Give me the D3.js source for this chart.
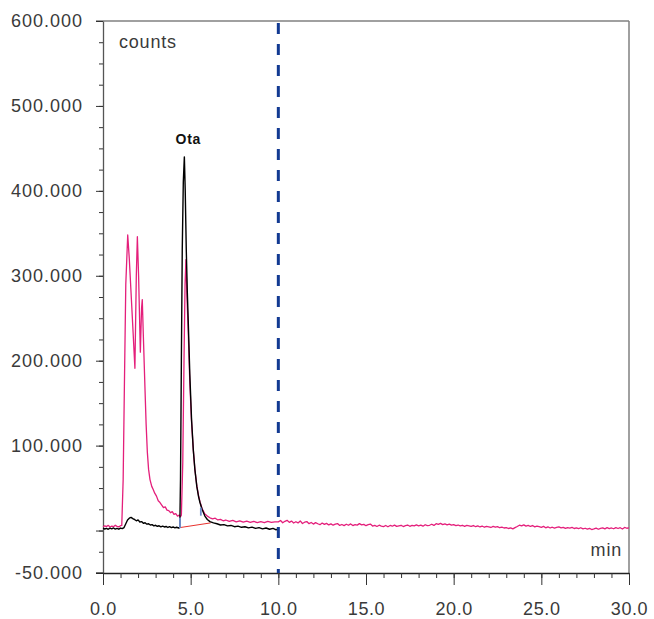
<!DOCTYPE html>
<html>
<head>
<meta charset="utf-8">
<script src="https://cdn.jsdelivr.net/npm/d3@7"></script>
<style>
  html, body { margin: 0; padding: 0; background: #fff; }
  svg text { font-family: Arial, "Liberation Sans", sans-serif; }
</style>
</head>
<body>
<div id="chart-container"></div>
<script>
// retention time (min) / detector counts
const pinkTime = [
  0.0, 0.1, 0.2, 0.3, 0.4, 0.5, 0.6, 0.7, 0.8, 0.9, 1.0, 1.07, 1.15, 1.22, 1.3, 1.41, 1.5, 1.6, 1.7, 1.82,
  1.9, 1.96, 2.03, 2.13, 2.2, 2.24, 2.3, 2.39, 2.46, 2.53, 2.6, 2.68, 2.78, 2.87, 2.95, 3.05, 3.15, 3.25, 3.35, 3.45,
  3.55, 3.65, 3.75, 3.85, 3.95, 4.05, 4.15, 4.25, 4.35, 4.42, 4.47, 4.55, 4.62, 4.68, 4.73, 4.78, 4.86, 4.95, 5.05, 5.15,
  5.24, 5.35, 5.45, 5.53, 5.65, 5.81, 5.95, 6.1, 6.25, 6.4, 6.55, 6.7, 6.85, 7.0, 7.2, 7.4, 7.6, 7.8, 8.0, 8.2,
  8.4, 8.6, 8.8, 9.0, 9.2, 9.4, 9.6, 9.8
];
const pinkCounts = [
  4500, 5600, 4700, 6100, 4200, 5300, 4500, 6200, 4900, 4300, 5700, 6000, 60000, 170000, 290000, 348000, 320000, 280000, 240000, 191000,
  300000, 346000, 300000, 210000, 262000, 272000, 230000, 170000, 125000, 92000, 72000, 60000, 52000, 48000, 44000, 40500, 35000, 33000, 30000, 27000,
  27800, 24000, 23500, 21000, 22300, 19000, 19800, 17000, 18200, 16500, 18000, 80000, 200000, 290000, 319000, 280000, 235000, 175000, 128000, 95000,
  72000, 53000, 41000, 34000, 26000, 19500, 17000, 15000, 13800, 14500, 12500, 13200, 11500, 12400, 10800, 12000, 10200, 11400, 9800, 11000,
  9600, 10800, 9400, 10500, 9200, 10700, 9500, 10300
];
// pink tail, sampled every 0.125 min from 10.0 to 30.0
const pinkTailStart = 10.0;
const pinkTailStep = 0.125;
const pinkTailCounts = [
  10200, 11800, 9100, 10900, 12000, 9600, 11100, 8900,
  10400, 9000, 11300, 8300, 9800, 10600, 8100, 9500,
  7600, 9300, 8000, 6900, 8800, 7200, 8400, 6600,
  7900, 6300, 7500, 8200, 6000, 7100, 5800, 7400,
  6200, 7800, 5900, 7000, 6400, 8100, 6600, 7300,
  5700, 6900, 7600, 5300, 6100, 4800, 6300, 5200,
  4600, 5900, 4400, 6000, 5100, 6400, 4900, 5600,
  6200, 4700, 5800, 6500, 5000, 6100, 5400, 6600,
  5500, 6300, 5100, 6800, 5700, 6200, 7400, 6000,
  8100, 7200, 8400, 7000, 7800, 6600, 7500, 6300,
  6900, 5800, 6500, 5400, 6200, 5000, 6000, 5600,
  4800, 5900, 4500, 5400, 4200, 5300, 3900, 4900,
  4400, 3600, 4800, 3900, 4600, 3300, 4100, 3000,
  3500, 2400, 3100, 1900, 3400, 4800, 6300, 5400,
  6700, 5200, 6100, 4800, 5900, 4300, 5200, 4600,
  3800, 4900, 3200, 4400, 3000, 3900, 2800, 3600,
  4200, 3100, 3800, 2600, 3500, 2900, 3700, 2400,
  3100, 2200, 3300, 1900, 2700, 1600, 2500, 1200,
  1900, 2800, 1500, 2600, 3200, 2000, 3400, 2300,
  3000, 2100, 3500, 2400, 3300, 1800, 3600, 2700,
  3100
];

const blackTime = [
  0.0, 0.1, 0.2, 0.3, 0.4, 0.5, 0.6, 0.7, 0.8, 0.9, 1.0, 1.1, 1.2, 1.3, 1.4, 1.5, 1.6, 1.7, 1.8, 1.9,
  2.0, 2.1, 2.2, 2.3, 2.4, 2.5, 2.6, 2.7, 2.8, 2.9, 3.0, 3.1, 3.2, 3.3, 3.4, 3.5, 3.6, 3.7, 3.8, 3.9,
  4.0, 4.1, 4.2, 4.3, 4.38, 4.42, 4.47, 4.52, 4.58, 4.64, 4.69, 4.75, 4.81, 4.86, 4.95, 5.05, 5.15, 5.24, 5.35, 5.45,
  5.53, 5.65, 5.81, 5.95, 6.1, 6.3, 6.5, 6.7, 6.9, 7.1, 7.3, 7.5, 7.7, 7.9, 8.1, 8.3, 8.5, 8.7, 8.9, 9.1,
  9.3, 9.5, 9.7, 9.85, 10.0
];
const blackCounts = [
  2500, 1800, 2600, 1500, 2800, 2000, 3000, 1700, 2500, 1600, 2900, 2200, 3500, 8000, 12500, 14500, 15500, 14000, 13000, 11500,
  12500, 10000, 10500, 8500, 9200, 7500, 8000, 6500, 7000, 5500, 6200, 5000, 5600, 4400, 5200, 4200, 4800, 3600, 4500, 3500,
  4200, 3200, 3900, 3000, 3600, 60000, 200000, 330000, 410000, 440000, 400000, 330000, 280000, 248000, 185000, 131000, 95000, 72000, 52000, 40000,
  33000, 25000, 17000, 13000, 10500, 9000, 8000, 6500, 7000, 5500, 6000, 4500, 5200, 3800, 4500, 3200, 4000, 2600, 3400, 2000,
  3000, 1500, 2500, 1000, 1500
];

// integration baseline and peak delimiters of the Ota peak
const baseTime = [4.39, 6.14];
const baseCounts = [3500, 9000];
const markTime = [4.39, 5.58];
const markLow = [3000, 17500];
const markHigh = [15000, 27000];

const peakName = 'Ota';
const peakTime = 4.64;
const peakCounts = 440000;

const xMajor = [0, 5, 10, 15, 20, 25, 30];
const xMinor = d3.range(0, 31, 1);
const yMajor = [-50000, 0, 100000, 200000, 300000, 400000, 500000, 600000];
const yLabels = ['-50.000', '', '100.000', '200.000', '300.000', '400.000', '500.000', '600.000'];
const yMinor = d3.range(-50000, 600001, 25000);
const markerTime = 10.0;

const width = 654, height = 619;
const margin = { left: 103, right: 629, top: 21, bottom: 573 };

const svg = d3.select('#chart-container')
    .append('svg')
    .attr('width', width)
    .attr('height', height);

const x = d3.scaleLinear().domain([0, 30]).range([margin.left, margin.right]);
const y = d3.scaleLinear().domain([-50000, 600000]).range([margin.bottom, margin.top]);

// frame: top and right lines
svg.append('line')
    .attr('x1', margin.left - 7).attr('x2', margin.right)
    .attr('y1', margin.top).attr('y2', margin.top)
    .attr('stroke', '#808080').attr('stroke-width', 1.5);
svg.append('line')
    .attr('x1', margin.right).attr('x2', margin.right)
    .attr('y1', margin.top).attr('y2', margin.bottom)
    .attr('stroke', '#808080').attr('stroke-width', 1.5);

// Y axis
const yAxis = svg.append('g')
    .attr('transform', `translate(${margin.left},0)`)
    .call(d3.axisLeft(y).tickValues(yMajor).tickSize(7).tickSizeOuter(0).tickPadding(13)
        .tickFormat((d, i) => yLabels[i]));
svg.append('g')
    .attr('transform', `translate(${margin.left},0)`)
    .call(d3.axisLeft(y).tickValues(yMinor).tickSize(4).tickSizeOuter(0).tickFormat(''))
    .call(g => g.select('.domain').remove());

// X axis
const xAxis = svg.append('g')
    .attr('transform', `translate(0,${margin.bottom})`)
    .call(d3.axisBottom(x).tickValues(xMajor).tickSize(12).tickSizeOuter(0).tickPadding(17)
        .tickFormat(d3.format('.1f')));
svg.append('g')
    .attr('transform', `translate(0,${margin.bottom})`)
    .call(d3.axisBottom(x).tickValues(xMinor).tickSize(5).tickSizeOuter(0).tickFormat(''))
    .call(g => g.select('.domain').remove());

svg.selectAll('.domain').attr('stroke', '#222').attr('stroke-width', 1.3);
svg.selectAll('.tick line').attr('stroke', '#333');
yAxis.select('.domain').attr('stroke', '#555');
yAxis.selectAll('text')
    .style('font-size', '18px')
    .style('letter-spacing', '1px')
    .attr('fill', '#3a3a3a');
xAxis.selectAll('text')
    .style('font-size', '18px')
    .style('letter-spacing', '0.6px')
    .attr('fill', '#3a3a3a');

// bottom axis line stretches under the y axis to the -50.000 tick
svg.append('line')
    .attr('x1', margin.left - 7).attr('x2', margin.left)
    .attr('y1', margin.bottom).attr('y2', margin.bottom)
    .attr('stroke', '#222').attr('stroke-width', 1.3);

// axis captions
svg.append('text')
    .attr('x', 119).attr('y', 48)
    .style('font-size', '18px')
    .style('letter-spacing', '0.8px')
    .attr('fill', '#3a3a3a')
    .text('counts');
svg.append('text')
    .attr('x', 622).attr('y', 556)
    .attr('text-anchor', 'end')
    .style('font-size', '18px')
    .style('letter-spacing', '0.8px')
    .attr('fill', '#3a3a3a')
    .text('min');

const line = d3.line()
    .x(d => x(d[0]))
    .y(d => y(d[1]));

const pinkData = pinkTime.map((t, i) => [t, pinkCounts[i]])
    .concat(pinkTailCounts.map((v, i) => [pinkTailStart + i * pinkTailStep, v]));

// pink trace
svg.append('path')
    .datum(pinkData)
    .attr('fill', 'none')
    .attr('stroke', '#e41f7b')
    .attr('stroke-width', 1.3)
    .attr('stroke-linejoin', 'round')
    .attr('d', line);

// integration baseline
svg.append('path')
    .datum(baseTime.map((t, i) => [t, baseCounts[i]]))
    .attr('fill', 'none')
    .attr('stroke', '#e8322e')
    .attr('stroke-width', 1)
    .attr('d', line);

// black trace
svg.append('path')
    .datum(blackTime.map((t, i) => [t, blackCounts[i]]))
    .attr('fill', 'none')
    .attr('stroke', '#000')
    .attr('stroke-width', 1.4)
    .attr('stroke-linejoin', 'round')
    .attr('d', line);

// peak delimiters
svg.selectAll('.mark')
    .data(markTime)
    .enter()
    .append('line')
    .attr('x1', d => x(d)).attr('x2', d => x(d))
    .attr('y1', (d, i) => y(markLow[i]))
    .attr('y2', (d, i) => y(markHigh[i]))
    .attr('stroke', '#6f8fcf')
    .attr('stroke-width', 1.8);

// peak label
svg.append('text')
    .attr('x', x(peakTime) + 4)
    .attr('y', y(peakCounts) - 13)
    .attr('text-anchor', 'middle')
    .style('font-size', '14px')
    .style('font-weight', 'bold')
    .style('letter-spacing', '0.8px')
    .attr('fill', '#111')
    .text(peakName);

// dashed time marker
svg.append('line')
    .attr('x1', x(markerTime)).attr('x2', x(markerTime))
    .attr('y1', margin.top + 2).attr('y2', margin.bottom)
    .attr('stroke', '#123a92')
    .attr('stroke-width', 3)
    .attr('stroke-dasharray', '11,10');
</script>
</body>
</html>
